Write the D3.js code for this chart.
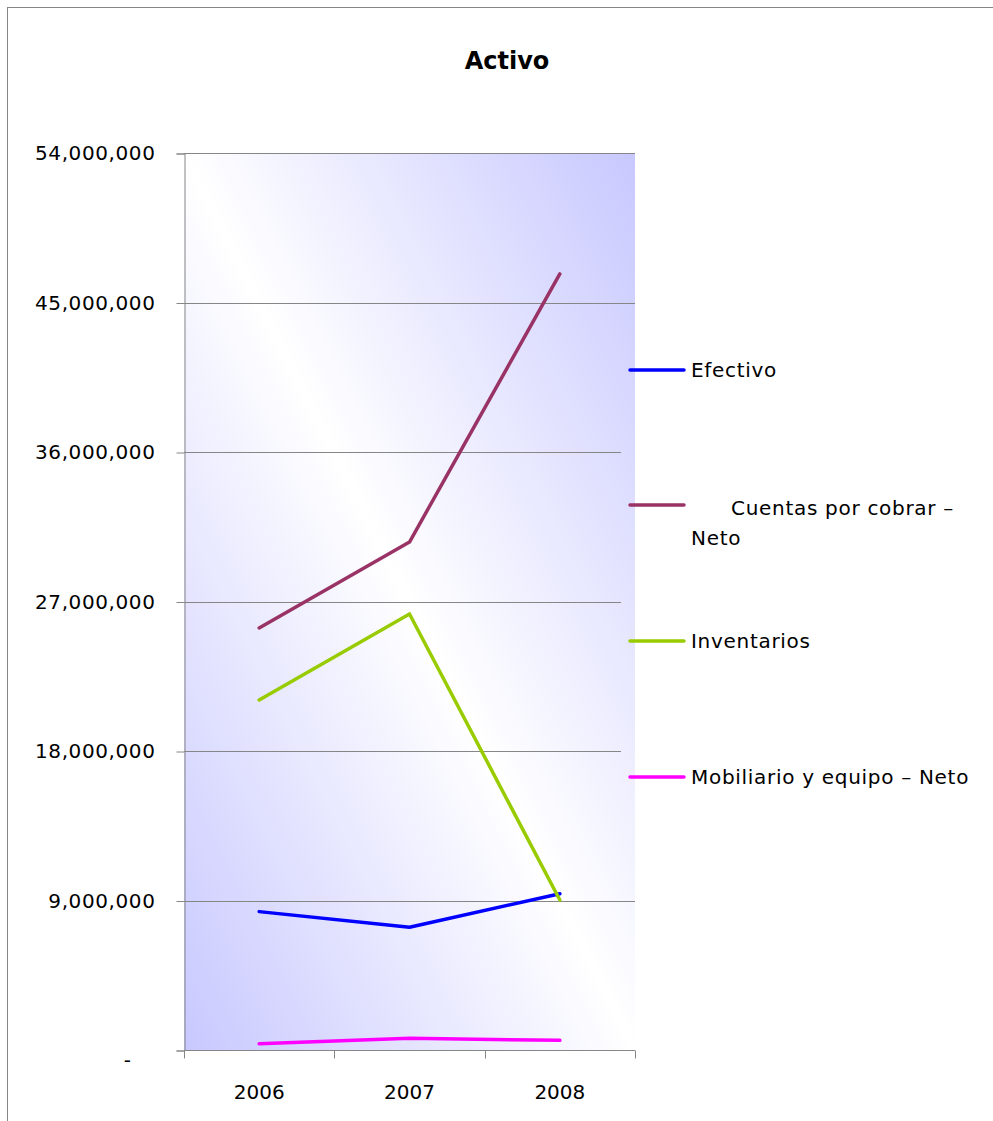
<!DOCTYPE html>
<html>
<head>
<meta charset="utf-8">
<script src="https://cdn.jsdelivr.net/npm/d3@7"></script>
<style>
  body { margin: 0; background: #fff; }
  svg { display: block; }
  text { font-family: "DejaVu Sans", sans-serif; fill: #000; }
</style>
</head>
<body>
<div id="chart"></div>
<script>
// chart data
var years = ["2006", "2007", "2008"];
var seriesNames = ["Efectivo", "Cuentas por cobrar – Neto", "Inventarios", "Mobiliario y equipo – Neto"];
var efectivo = [8330000, 7390000, 9410000];
var cuentas = [25410000, 30580000, 46720000];
var inventarios = [21070000, 26250000, 9030000];
var mobiliario = [380000, 700000, 580000];
var yTicks = [0, 9000000, 18000000, 27000000, 36000000, 45000000, 54000000];
var colors = ["#0000ff", "#993366", "#99cc00", "#ff00ff"];

var allSeries = [efectivo, cuentas, inventarios, mobiliario];

var width = 993, height = 1121;
var plot = { left: 184, right: 635, top: 153, bottom: 1050 };

var svg = d3.select("#chart").append("svg")
    .attr("width", width)
    .attr("height", height);

// outer chart frame (runs off the canvas right and bottom)
svg.append("rect")
    .attr("x", 7.5).attr("y", 7.5)
    .attr("width", 1100).attr("height", 1200)
    .attr("fill", "none")
    .attr("stroke", "#868686")
    .attr("stroke-width", 1);

// gradient for plot background
var defs = svg.append("defs");
var grad = defs.append("linearGradient")
    .attr("id", "bg")
    .attr("x1", 0).attr("y1", 1)
    .attr("x2", 1).attr("y2", 0);
grad.append("stop").attr("offset", "0%").attr("stop-color", "#c8c8ff");
grad.append("stop").attr("offset", "50%").attr("stop-color", "#ffffff");
grad.append("stop").attr("offset", "100%").attr("stop-color", "#c8c8ff");

var x = d3.scaleBand()
    .domain(years)
    .range([plot.left, plot.right])
    .padding(0);

var y = d3.scaleLinear()
    .domain([0, 54000000])
    .range([plot.bottom, plot.top]);

svg.append("rect")
    .attr("x", plot.left)
    .attr("y", plot.top)
    .attr("width", plot.right - plot.left)
    .attr("height", plot.bottom - plot.top)
    .attr("fill", "url(#bg)");

// gridlines (the middle three stop a little short, as in the original)
svg.append("g")
  .selectAll("line")
  .data(yTicks.slice(1))
  .enter()
  .append("line")
    .attr("x1", plot.left)
    .attr("x2", function(d) { return (d >= 18000000 && d <= 36000000) ? 621 : plot.right; })
    .attr("y1", function(d) { return Math.round(y(d)) + 0.5; })
    .attr("y2", function(d) { return Math.round(y(d)) + 0.5; })
    .attr("stroke", "#868686")
    .attr("stroke-width", 1);

// y axis
var fmt = d3.format(",");
var yAxis = svg.append("g")
    .attr("transform", "translate(" + (plot.left + 0.5) + ",0.5)")
    .call(d3.axisLeft(y)
        .tickValues(yTicks)
        .tickSize(8)
        .tickPadding(21)
        .tickFormat(function(d) { return d === 0 ? "-" : fmt(d); }));
yAxis.select(".domain").attr("stroke", "#868686");
yAxis.selectAll(".tick line").attr("stroke", "#868686");
yAxis.selectAll(".tick text")
    .style("font-size", "20px")
    .style("letter-spacing", "0.6px")
    .attr("font-family", null);
yAxis.selectAll(".tick").filter(function(d) { return d === 0; })
    .select("text").attr("x", -53).attr("dy", "0.8em");

// x axis: ticks at category boundaries
var xAxis = svg.append("g")
    .attr("transform", "translate(0," + (plot.bottom + 0.5) + ")");
xAxis.append("line")
    .attr("x1", plot.left).attr("x2", plot.right)
    .attr("stroke", "#868686");
var bounds = years.map(function(d) { return x(d); }).concat([x(years[years.length - 1]) + x.bandwidth()]);
xAxis.selectAll(".xt")
  .data(bounds)
  .enter()
  .append("line")
    .attr("x1", function(d) { return Math.round(d) + 0.5; })
    .attr("x2", function(d) { return Math.round(d) + 0.5; })
    .attr("y1", 0).attr("y2", 8)
    .attr("stroke", "#868686");
xAxis.selectAll(".xl")
  .data(years)
  .enter()
  .append("text")
    .attr("x", function(d) { return x(d) + x.bandwidth() / 2; })
    .attr("y", 48)
    .attr("text-anchor", "middle")
    .style("font-size", "20px")
    .text(function(d) { return d; });

// lines
var line = d3.line()
    .x(function(d, i) { return x(years[i]) + x.bandwidth() / 2; })
    .y(function(d) { return y(d); });

svg.append("g")
  .selectAll("path")
  .data(allSeries)
  .enter()
  .append("path")
    .attr("d", line)
    .attr("fill", "none")
    .attr("stroke", function(d, i) { return colors[i]; })
    .attr("stroke-width", 3.5)
    .attr("stroke-linejoin", "round")
    .attr("stroke-linecap", "round");

// title
svg.append("text")
    .attr("x", 507)
    .attr("y", 69)
    .attr("text-anchor", "middle")
    .style("font-size", "24px")
    .style("font-weight", "bold")
    .text("Activo");

// legend
var legendY = [370, 505, 641, 777];
var legend = svg.append("g");
seriesNames.forEach(function(name, i) {
    legend.append("line")
        .attr("x1", 630).attr("x2", 684)
        .attr("y1", legendY[i]).attr("y2", legendY[i])
        .attr("stroke", colors[i])
        .attr("stroke-width", 3.5)
        .attr("stroke-linecap", "round");
    if (i === 1) {
        legend.append("text")
            .attr("x", 731).attr("y", legendY[i] + 10)
            .style("font-size", "20px")
            .style("letter-spacing", "0.7px")
            .text("Cuentas por cobrar –");
        legend.append("text")
            .attr("x", 691).attr("y", legendY[i] + 40)
            .style("font-size", "20px")
            .style("letter-spacing", "0.7px")
            .text("Neto");
    } else {
        legend.append("text")
            .attr("x", 691).attr("y", legendY[i] + 7)
            .style("font-size", "20px")
            .style("letter-spacing", "0.7px")
            .text(name);
    }
});
</script>
</body>
</html>
